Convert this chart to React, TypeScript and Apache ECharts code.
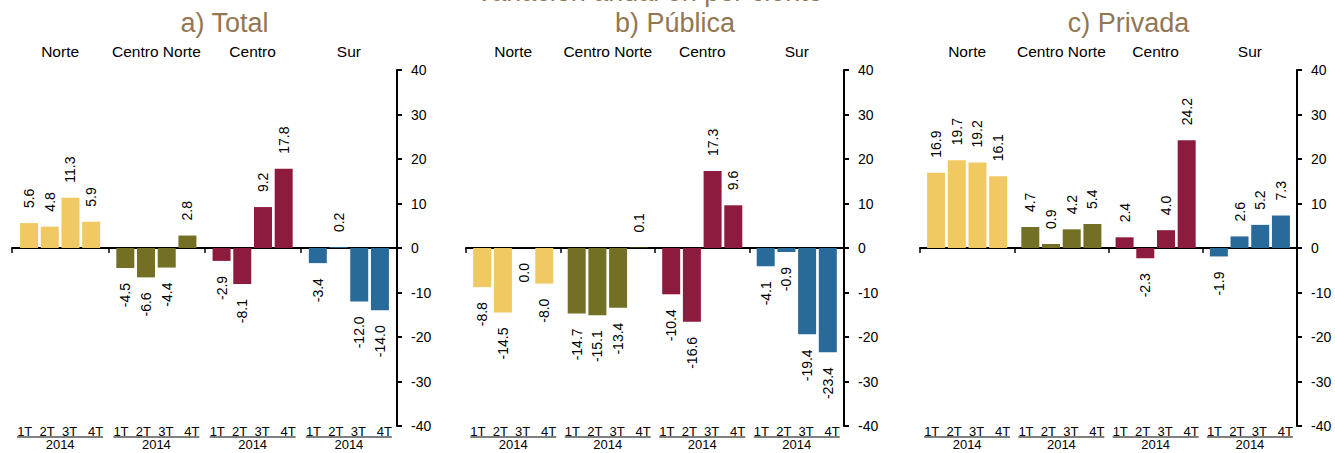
import React, { useEffect, useRef } from 'react';
import * as echarts from 'echarts';

const regions = ['Norte', 'Centro Norte', 'Centro', 'Sur'];
const quarters = ['1T', '2T', '3T', '4T'];
const quarterSpacing = ['\u00a0\u00a0', '\u00a0\u00a0', '\u00a0\u00a0\u00a0'];
const yearLabel = '2014';
const mainTitle = 'Variación anual en por ciento';
const panelTitles = ['a) Total', 'b) Pública', 'c) Privada'];
const yMin = -40;
const yMax = 40;
const yInterval = 10;

// a) Total
const totalNorte = [5.6, 4.8, 11.3, 5.9];
const totalCentroNorte = [-4.5, -6.6, -4.4, 2.8];
const totalCentro = [-2.9, -8.1, 9.2, 17.8];
const totalSur = [-3.4, 0.2, -12.0, -14.0];

// b) Pública
const publicaNorte = [-8.8, -14.5, 0.0, -8.0];
const publicaCentroNorte = [-14.7, -15.1, -13.4, 0.1];
const publicaCentro = [-10.4, -16.6, 17.3, 9.6];
const publicaSur = [-4.1, -0.9, -19.4, -23.4];

// c) Privada
const privadaNorte = [16.9, 19.7, 19.2, 16.1];
const privadaCentroNorte = [4.7, 0.9, 4.2, 5.4];
const privadaCentro = [2.4, -2.3, 4.0, 24.2];
const privadaSur = [-1.9, 2.6, 5.2, 7.3];

const panelRows = [
  [totalNorte, totalCentroNorte, totalCentro, totalSur],
  [publicaNorte, publicaCentroNorte, publicaCentro, publicaSur],
  [privadaNorte, privadaCentroNorte, privadaCentro, privadaSur],
];

const regionColors = ['#F1C962', '#737025', '#8D1B3D', '#286B9B'];
const titleColor = '#937752';
const FONT = 'Liberation Sans, Arial, Helvetica, sans-serif';

const gridBoxes = [
  { left: 12, width: 385 },
  { left: 466, width: 378 },
  { left: 920, width: 377 },
];
const gridTop = 70;
const gridHeight = 356;

function quarterText() {
  let s = '';
  quarters.forEach((q, i) => {
    s += q + (i < quarterSpacing.length ? quarterSpacing[i] : '');
  });
  return s;
}

function buildOption() {
  const grid: any[] = [];
  const xAxis: any[] = [];
  const yAxis: any[] = [];
  const series: any[] = [];
  const graphic: any[] = [];

  gridBoxes.forEach((g, i) => {
    grid.push({ left: g.left, width: g.width, top: gridTop, height: gridHeight });
    xAxis.push({
      gridIndex: i,
      type: 'category',
      data: regions,
      position: 'bottom',
      axisLine: { show: true, onZero: true, lineStyle: { color: '#000', width: 2 } },
      axisTick: { show: true, length: 5, lineStyle: { color: '#000', width: 1.5 } },
      axisLabel: { show: false },
      splitLine: { show: false },
    });
    xAxis.push({
      gridIndex: i,
      type: 'category',
      data: regions,
      position: 'top',
      axisLine: { show: false },
      axisTick: { show: false },
      axisLabel: { interval: 0, margin: 11, fontSize: 15.5, color: '#000', fontFamily: FONT },
    });
    xAxis.push({
      gridIndex: i,
      type: 'category',
      data: regions,
      position: 'bottom',
      axisLine: { show: false },
      axisTick: { show: false },
      axisLabel: {
        interval: 0,
        margin: -1,
        formatter: () => `{q|${quarterText()}}\n{y|${yearLabel}}`,
        rich: {
          q: { fontSize: 13, lineHeight: 12, color: '#000', fontFamily: FONT },
          y: { fontSize: 13, lineHeight: 14, color: '#000', fontFamily: FONT },
        },
      },
    });
    yAxis.push({
      gridIndex: i,
      type: 'value',
      position: 'right',
      min: yMin,
      max: yMax,
      interval: yInterval,
      axisLine: { show: true, lineStyle: { color: '#000', width: 2 } },
      axisTick: { show: true, length: 5, lineStyle: { color: '#000', width: 2 } },
      axisLabel: { margin: 14, fontSize: 14, color: '#000', fontFamily: FONT },
      splitLine: { show: false },
    });

    const rows = panelRows[i];
    quarters.forEach((q, qi) => {
      series.push({
        type: 'bar',
        name: q,
        xAxisIndex: i * 3,
        yAxisIndex: i,
        barWidth: 18,
        barGap: '15%',
        data: rows.map((row, r) => {
          const v = row[qi];
          const up = v > 0;
          return {
            value: v,
            itemStyle: { color: regionColors[r] },
            label: {
              position: up ? 'top' : 'bottom',
              align: up ? 'left' : 'right',
              verticalAlign: 'middle',
            },
          };
        }),
        label: {
          show: true,
          rotate: 90,
          distance: 15,
          fontSize: 14,
          color: '#000',
          fontFamily: FONT,
          formatter: (p: any) => Number(p.value).toFixed(1),
        },
      });
    });

    graphic.push({
      type: 'text',
      x: g.left + (g.width + 40) / 2,
      y: 23,
      style: {
        text: panelTitles[i],
        fontSize: 27,
        fontFamily: FONT,
        fill: titleColor,
        align: 'center',
        verticalAlign: 'middle',
      },
    });
    const step = g.width / regions.length;
    regions.forEach((_, r) => {
      const cx = g.left + step * (r + 0.5);
      graphic.push({
        type: 'line',
        shape: { x1: cx - 43, y1: 437, x2: cx + 43, y2: 437 },
        style: { stroke: '#000', lineWidth: 1 },
      });
    });
  });

  graphic.push({
    type: 'text',
    x: 649,
    y: -8,
    style: {
      text: mainTitle,
      fontSize: 27,
      fontFamily: FONT,
      fill: titleColor,
      align: 'center',
      verticalAlign: 'middle',
    },
  });

  return {
    animation: false,
    backgroundColor: '#fff',
    textStyle: { fontFamily: FONT },
    grid,
    xAxis,
    yAxis,
    series,
    graphic,
  };
}

export default function App() {
  const ref = useRef<HTMLDivElement>(null);
  useEffect(() => {
    if (!ref.current) return;
    const chart = echarts.init(ref.current, undefined, { renderer: 'svg' });
    chart.setOption(buildOption() as any);
    return () => chart.dispose();
  }, []);
  return (
    <div
      ref={ref}
      style={{ position: 'fixed', left: 0, top: 0, width: 1335, height: 453, background: '#fff' }}
    />
  );
}
